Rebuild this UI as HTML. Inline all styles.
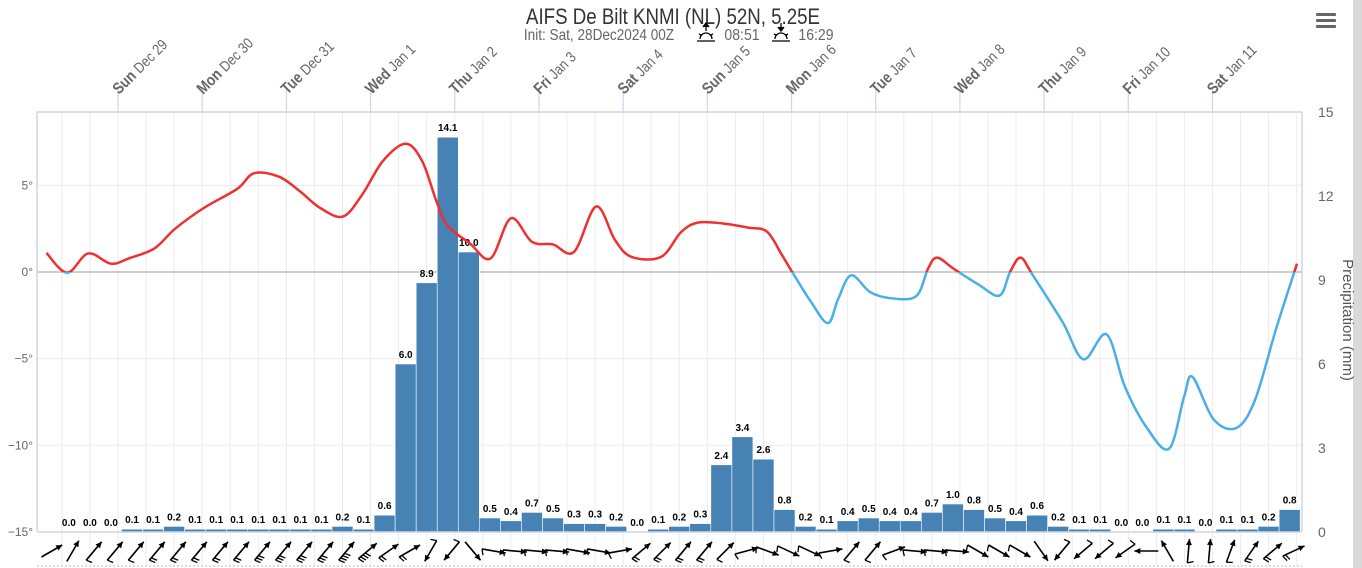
<!DOCTYPE html>
<html><head><meta charset="utf-8">
<style>
html,body{margin:0;padding:0;background:#fff;}
svg{display:block;font-family:"Liberation Sans",sans-serif;}
</style></head>
<body>
<svg id="chart" width="1362" height="568" viewBox="0 0 1362 568" xmlns="http://www.w3.org/2000/svg">
  <rect x="1353" y="0" width="9" height="568" fill="#d9d9d9"/>
  <text x="673" y="24" text-anchor="middle" font-size="22" fill="#333" transform="translate(673,0) scale(0.85,1) translate(-673,0)">AIFS De Bilt KNMI (NL) 52N, 5.25E</text>
  <g fill="#666" font-size="16">
    <text x="599" y="40" text-anchor="middle" transform="translate(599,0) scale(0.85,1) translate(-599,0)">Init: Sat, 28Dec2024 00Z</text>
    <g stroke="#000" stroke-width="1.3" fill="none">
      <line x1="706" y1="31" x2="706" y2="25"/><path d="M703,27 L706,23 L709,27" fill="#000"/>
      <path d="M700,39 A6,6 0 0 1 712,39"/><line x1="697" y1="41" x2="715" y2="41"/>
      <line x1="699" y1="34" x2="701" y2="35"/><line x1="713" y1="34" x2="711" y2="35"/>
    </g>
    <text x="742" y="40" text-anchor="middle" transform="translate(742,0) scale(0.88,1) translate(-742,0)">08:51</text>
    <g stroke="#000" stroke-width="1.3" fill="none">
      <line x1="781" y1="23" x2="781" y2="29"/><path d="M778,27 L781,31 L784,27" fill="#000"/>
      <path d="M775,39 A6,6 0 0 1 787,39"/><line x1="772" y1="41" x2="790" y2="41"/>
      <line x1="774" y1="34" x2="776" y2="35"/><line x1="788" y1="34" x2="786" y2="35"/>
    </g>
    <text x="816" y="40" text-anchor="middle" transform="translate(816,0) scale(0.88,1) translate(-816,0)">16:29</text>
  </g>
  <g fill="#666">
    <rect x="1316" y="13" width="20" height="3" rx="1"/><rect x="1316" y="19" width="20" height="3" rx="1"/><rect x="1316" y="25" width="20" height="3" rx="1"/>
  </g>
  <g id="grid"></g>
  <g id="bars"></g>
  <g id="temp"></g>
  <g id="axes"></g>
  <g id="wind"></g>
  <text x="1343" y="320" text-anchor="middle" font-size="15" fill="#555" transform="rotate(90 1343 320)">Precipitation (mm)</text>
</svg>
<script>
// ---- data ----
const dayNames = ["Sun","Mon","Tue","Wed","Thu","Fri","Sat","Sun","Mon","Tue","Wed","Thu","Fri","Sat"];
const dayDates = ["Dec 29","Dec 30","Dec 31","Jan 1","Jan 2","Jan 3","Jan 4","Jan 5","Jan 6","Jan 7","Jan 8","Jan 9","Jan 10","Jan 11"];
const tempTicks = [5,0,-5,-10,-15];
const precipTicks = [15,12,9,6,3,0];
const precip = [0.0,0.0,0.0,0.1,0.1,0.2,0.1,0.1,0.1,0.1,0.1,0.1,0.1,0.2,0.1,0.6,6.0,8.9,14.1,10.0,
0.5,0.4,0.7,0.5,0.3,0.3,0.2,0.0,0.1,0.2,0.3,2.4,3.4,2.6,0.8,0.2,0.1,0.4,0.5,0.4,
0.4,0.7,1.0,0.8,0.5,0.4,0.6,0.2,0.1,0.1,0.0,0.0,0.1,0.1,0.0,0.1,0.1,0.2,0.8];
const tempHours = [3.6,9.5,15.5,22,27.4,34.4,40.3,48.5,58,62.8,69.9,75.9,81.6,88.1,93.6,99.5,106,110.7,114.8,117.8,124.3,130.2,136,142,148,154,160.3,165.7,170.4,178.8,184.5,189.3,196.5,203.6,209,213.3,216.2,221.6,226.4,229.3,233,238.4,244.2,251.5,254.9,257.5,262.2,269.4,275.3,278.3,281.3,284.8,293.3,299.2,305.8,311,317,323.6,327.9,330.3,336.3,342.8,348.1,354.1,360.1];
const tempValues = [1.1,-0.04,1.07,0.48,0.81,1.36,2.5,3.7,4.8,5.7,5.5,4.65,3.7,3.2,4.46,6.4,7.4,6.4,4.07,2.7,1.65,0.78,3.1,1.74,1.59,1.16,3.78,1.84,0.87,0.87,2.3,2.85,2.8,2.56,2.33,0.97,0,-1.74,-2.95,-1.55,-0.19,-1.16,-1.51,-1.4,0.19,0.83,0.19,-0.74,-1.36,0,0.83,-0.19,-2.9,-5.04,-3.6,-6.6,-8.9,-10.2,-7.2,-6.05,-8.5,-9.0,-7.4,-3.3,0.48];
const windDir = [30,60,50,50,50,50,50,50,50,50,50,50,50,50,50,40,35,30,-120,-130,-50,-10,-5,-5,-5,-10,-10,10,40,45,50,50,45,15,-20,-25,-25,10,50,50,20,-5,-5,-5,-30,-30,-30,-55,-130,-140,-140,-145,180,120,85,85,70,55,40,25];
const windFeathers = [0,0,1,1,1,2,2,2,2,2,3,3,3,3,4,4,2,2,1,1,0,1,1,1,1,1,1,1,2,2,2,2,1,1,1,1,1,1,1,1,1,1,1,1,1,1,1,0,1,1,1,1,0,0,1,1,1,2,2,2];

// ---- scales ----
const L=37,R=1302,T=112,B=531;
const x = h => 33.8 + h*3.508;
const yT = d => 272 - d*17.33;
const yP = p => 532 - p*28;
const NS="http://www.w3.org/2000/svg";
function mk(tag, attrs, parent){const e=document.createElementNS(NS,tag);for(const k in attrs)e.setAttribute(k,attrs[k]);parent.appendChild(e);return e;}
const grid=document.getElementById('grid'),bars=document.getElementById('bars'),temp=document.getElementById('temp'),axes=document.getElementById('axes'),wind=document.getElementById('wind');

// grid
for(let h=8; h<362; h+=8){const gx=x(h); if(gx<=L||gx>=R)continue;
  const gl=mk('line',{x1:gx,y1:T,x2:gx,y2:B,stroke:'#ececec','stroke-width':1},grid);
  
  
  const wl=mk('line',{x1:gx,y1:B+2,x2:gx,y2:566,stroke:'#ececec','stroke-width':1},grid);
  
  
}
tempTicks.forEach(t=>{
  const hl=mk('line',{x1:L,y1:yT(t),x2:R,y2:yT(t),stroke:t===0?'#b0b0b0':'#ececec','stroke-width':t===0?1.3:1},grid);
  
  
  const lab=mk('text',{x:33,y:yT(t)+4,'text-anchor':'end','font-size':12,fill:'#666'},axes);
  lab.textContent=(t<0?'\u2212':'')+Math.abs(t)+'°';
  
  
});
precipTicks.forEach(p=>{
  const lab=mk('text',{x:1318,y:yP(p)+5,'font-size':14,fill:'#666'},axes);
  lab.textContent=p;
  
  
});
// frame
const fr=mk('path',{d:`M${L},${B} L${L},${T} L${R},${T} L${R},${B}`,fill:'none',stroke:'#ccd6eb','stroke-width':1.5},axes);


const bl=mk('line',{x1:L,y1:B+1,x2:R,y2:B+1,stroke:'#ccd6eb','stroke-width':1.5},axes);


mk('line',{x1:L,y1:566,x2:R,y2:566,stroke:'#bbb','stroke-width':1,'stroke-dasharray':'2,2'},axes);
// day labels
dayNames.forEach((n,i)=>{
  const dx=x(24*(i+1));
  const tl=mk('line',{x1:dx,y1:88,x2:dx,y2:T,stroke:'#ccd6eb','stroke-width':1.2},axes);
  
  
  const tx=mk('text',{x:0,y:0,'font-size':16,fill:'#666',transform:`translate(${dx+1},${95}) rotate(-45) scale(0.85,1)`},axes);
  
  
  const b=mk('tspan',{'font-weight':'bold'},tx); b.textContent=n+' ';
  const d=mk('tspan',{'font-size':15},tx); d.textContent=dayDates[i];
});
// bars
precip.forEach((p,i)=>{
  const x0=x(7+6*i), x1=x(13+6*i), top=yP(p);
  const r=mk('rect',{x:x0,y:top,width:x1-x0,height:Math.max(0,532-top),fill:'#4682b4',stroke:'#fff','stroke-width':0.6},bars);
  
  
  const lb=mk('text',{x:(x0+x1)/2,y:top-6,'text-anchor':'middle','font-size':10,'font-weight':'bold',fill:'#000',stroke:'#fff','stroke-width':2,'paint-order':'stroke'},bars);
  lb.textContent=p.toFixed(1);
  
  
});
// temperature curve
const pts=tempHours.map((h,i)=>[x(h),yT(tempValues[i])]);
let d=`M${pts[0][0]},${pts[0][1]}`;
for(let i=0;i<pts.length-1;i++){
  const p0=pts[Math.max(0,i-1)],p1=pts[i],p2=pts[i+1],p3=pts[Math.min(pts.length-1,i+2)];
  const c1=[p1[0]+(p2[0]-p0[0])/6,p1[1]+(p2[1]-p0[1])/6],c2=[p2[0]-(p3[0]-p1[0])/6,p2[1]-(p3[1]-p1[1])/6];
  d+=` C${c1[0]},${c1[1]} ${c2[0]},${c2[1]} ${p2[0]},${p2[1]}`;
}
const defs=mk('defs',{},temp);
const ca=mk('clipPath',{id:'above'},defs); mk('rect',{x:0,y:0,width:1362,height:yT(0)},ca);
const cb=mk('clipPath',{id:'below'},defs); mk('rect',{x:0,y:yT(0),width:1362,height:600},cb);
const tr=mk('path',{d:d,fill:'none',stroke:'#f03030','stroke-width':2.5,'clip-path':'url(#above)'},temp);


const tb=mk('path',{d:d,fill:'none',stroke:'#4aaee8','stroke-width':2.5,'clip-path':'url(#below)'},temp);


// wind arrows
windDir.forEach((a,i)=>{
  const cx=x(4+6*i)+4, cy=551, len=12, rad=a*Math.PI/180;
  const dx=Math.cos(rad)*len, dy=-Math.sin(rad)*len;
  const g=mk('g',{stroke:'#000','stroke-width':1.6,fill:'#000'},wind);
  
  
  const tx=cx+dx,ty=cy+dy,sx=cx-dx,sy=cy-dy;
  mk('line',{x1:sx,y1:sy,x2:tx,y2:ty},g);
  const ux=dx/len,uy=dy/len;
  mk('path',{d:`M${tx},${ty} L${tx-ux*6-uy*3},${ty-uy*6+ux*3} L${tx-ux*6+uy*3},${ty-uy*6-ux*3}Z`,stroke:'none'},g);
  for(let f=0;f<windFeathers[i];f++){
    const bx=sx+ux*f*3, by=sy+uy*f*3;
    mk('line',{x1:bx,y1:by,x2:bx-uy*6+ux*2,y2:by+ux*6+uy*2,'stroke-width':1.3},g);
  }
});
</script>
</body></html>
